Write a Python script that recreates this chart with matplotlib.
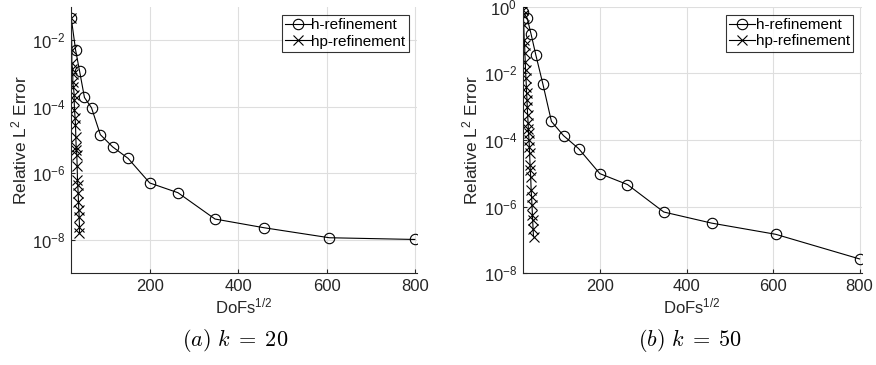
import matplotlib.pyplot as plt
import numpy as np

# sqrt(DoFs) for h-refinement (same meshes for both wave numbers)
h_dofs = [21, 31, 40, 51, 67, 87, 115, 150, 199, 263, 347, 458, 606, 800]

# k = 20
h_err_20 = [4.7e-2, 5.0e-3, 1.17e-3, 1.9e-4, 9.3e-5, 1.45e-5, 6.2e-6, 2.8e-6,
            5.1e-7, 2.6e-7, 4.2e-8, 2.3e-8, 1.15e-8, 1.02e-8]
hp_dofs_20 = [20.9, 22.4, 22.4, 23.9, 24.6, 24.6, 26.1, 27.7, 27.7, 28.4, 29.9, 30.7,
              31.4, 32.2, 32.9, 33.7, 34.5, 35.2, 35.9, 36.7, 37.5, 38.2, 39.0, 39.7, 39.7]
hp_err_20 = [4.7e-2, 5.2e-3, 2.0e-3, 1.4e-3, 9.5e-4, 5.6e-4, 3.8e-4, 2.3e-4, 1.6e-4,
             7.9e-5, 4.5e-5, 2.8e-5, 1.26e-5, 6.3e-6, 5.0e-6, 3.5e-6, 1.6e-6, 6.3e-7,
             4.5e-7, 2.5e-7, 1.4e-7, 7.9e-8, 5.0e-8, 2.5e-8, 1.6e-8]

# k = 50
h_err_50 = [0.71, 0.45, 0.148, 0.035, 4.9e-3, 3.6e-4, 1.35e-4, 5.5e-5,
            9.8e-6, 4.6e-6, 6.9e-7, 3.2e-7, 1.48e-7, 2.7e-8]
hp_dofs_50 = [21, 22, 23, 24, 25, 25.5, 26.5, 27, 28, 29, 29.5, 30.5, 31, 32, 33,
              33.5, 34, 35, 36, 36.5, 37.5, 38, 39, 40, 41, 42, 43, 43.5, 44.5, 45.5]
hp_err_50 = [0.79, 0.56, 0.28, 0.1, 0.071, 0.04, 0.022, 0.0126, 7.1e-3, 4.0e-3,
             2.5e-3, 1.6e-3, 1.0e-3, 5.6e-4, 3.2e-4, 2.2e-4, 1.6e-4, 1.0e-4, 6.3e-5,
             4.0e-5, 1.8e-5, 1.26e-5, 7.9e-6, 3.2e-6, 2.0e-6, 1.1e-6, 5.6e-7, 4.0e-7,
             2.2e-7, 1.26e-7]

plt.rcParams['font.family'] = ['Liberation Sans', 'DejaVu Sans']
plt.rcParams['mathtext.fontset'] = 'custom'
plt.rcParams['mathtext.rm'] = 'Liberation Sans'
plt.rcParams['mathtext.it'] = 'Liberation Sans:italic'

fig = plt.figure(figsize=(8.76, 3.65), dpi=100)

panels = [
    ([71 / 876, 1 - 273 / 365, 346 / 876, 266 / 365], h_err_20, hp_dofs_20, hp_err_20,
     (1e-9, 1e-1), [1e-8, 1e-6, 1e-4, 1e-2], "(a)", "20", 235),
    ([522.7 / 876, 1 - 273.3 / 365, 339 / 876, 266.6 / 365], h_err_50, hp_dofs_50, hp_err_50,
     (1e-8, 1e0), [1e-8, 1e-6, 1e-4, 1e-2, 1e0], "(b)", "50", 690),
]

axis_col = '#262626'
for rect, h_err, hp_x, hp_err, ylim, yticks, tag, k, cap_x in panels:
    ax = fig.add_axes(rect)
    ax.semilogy(h_dofs, h_err, '-', color='black', lw=0.8, marker='o', ms=7.5,
                mfc='none', mec='black', mew=0.8, label='h-refinement')
    ax.semilogy(hp_x, hp_err, '-', color='black', lw=0.8, marker='x', ms=6.5,
                mew=0.8, label='hp-refinement')
    ax.set_xlim(20.5, 805)
    ax.set_ylim(*ylim)
    ax.set_xticks([200, 400, 600, 800])
    ax.set_yticks(yticks)
    ax.yaxis.set_minor_locator(plt.NullLocator())
    ax.grid(True, color='#dedede', lw=0.8)
    ax.set_axisbelow(True)
    for s in ['top', 'right']:
        ax.spines[s].set_visible(False)
    for s in ['left', 'bottom']:
        ax.spines[s].set_color(axis_col)
        ax.spines[s].set_linewidth(0.8)
    ax.tick_params(direction='in', length=3, colors=axis_col, labelsize=12, pad=4)
    ax.set_xlabel(r'DoFs$^{1/2}$', fontsize=12, color=axis_col, labelpad=2)
    ax.set_ylabel(r'Relative L$^2$ Error', fontsize=12.5, color=axis_col, labelpad=2)
    leg = ax.legend(loc='upper right', fontsize=11, frameon=True, fancybox=False,
                    handlelength=1.7, handletextpad=0.05, borderpad=0.2,
                    labelspacing=0.15, borderaxespad=0.55)
    leg.get_frame().set_edgecolor('black')
    leg.get_frame().set_linewidth(0.8)
    fig.text(cap_x / 876, 1 - 340 / 365,
             r'$\mathit{%s}\ k\;=\;%s$' % (tag, k), ha='center', va='center',
             fontsize=16, math_fontfamily='cm')

fig.savefig('out.png', dpi=100)
